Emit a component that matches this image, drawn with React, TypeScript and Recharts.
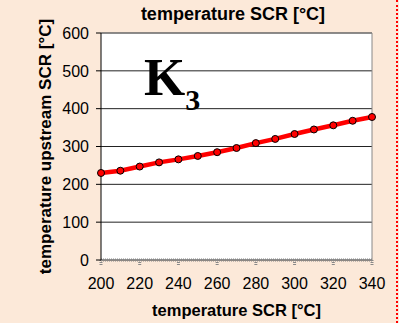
import React from 'react';
import {
  LineChart,
  Line,
  XAxis,
  YAxis,
  CartesianGrid,
  ReferenceLine,
} from 'recharts';

// temperature SCR [°C]
const scrTemps = [200, 210, 220, 230, 240, 250, 260, 270, 280, 290, 300, 310, 320, 330, 340];
// temperature upstream SCR [°C]
const upstreamTemps = [230, 236, 247, 258, 266, 275, 285, 296, 309, 320, 333, 345, 356, 368, 378];

const xTicks = [200, 220, 240, 260, 280, 300, 320, 340];
const yTicks = [0, 100, 200, 300, 400, 500, 600];

const data = scrTemps.map((t, i) => ({ scr: t, upstream: upstreamTemps[i] }));

const font = 'Arial, "Liberation Sans", sans-serif';

const App: React.FC = () => {
  return (
    <div
      style={{
        position: 'fixed',
        left: 0,
        top: 0,
        width: 399,
        height: 323,
        background: '#FCE9D9',
        fontFamily: font,
      }}
    >
      <LineChart
        width={399}
        height={323}
        data={data}
        margin={{ top: 33, right: 27, left: 0, bottom: 0 }}
      >
        <CartesianGrid horizontal vertical={false} stroke="#222" fill="#fff" />
        <ReferenceLine y={600} stroke="#888" />
        <ReferenceLine x={340} stroke="#888" />
        <XAxis
          dataKey="scr"
          type="number"
          domain={[200, 340]}
          ticks={xTicks}
          height={63}
          axisLine={{ stroke: '#888', strokeWidth: 3, strokeDasharray: '1 1' }}
          tickLine={{ stroke: '#888', strokeWidth: 3, strokeDasharray: '1 1' }}
          tickSize={5}
          tickMargin={13}
          tick={{ fill: '#000', fontSize: 16, fontFamily: font }}
          label={{
            value: 'temperature SCR [°C]',
            position: 'insideBottom',
            offset: 7,
            style: { fill: '#000', fontSize: 16.5, fontWeight: 'bold', fontFamily: font },
          }}
        />
        <YAxis
          type="number"
          domain={[0, 600]}
          ticks={yTicks}
          width={101}
          axisLine={{ stroke: '#000' }}
          tickLine={{ stroke: '#000' }}
          tickSize={5}
          tickMargin={7}
          tick={{ fill: '#000', fontSize: 16, fontFamily: font }}
          label={{
            value: 'temperature upstream SCR [°C]',
            angle: -90,
            position: 'insideLeft',
            offset: 45,
            style: {
              fill: '#000',
              fontSize: 17,
              fontWeight: 'bold',
              fontFamily: font,
              textAnchor: 'middle',
            },
          }}
        />
        <Line
          dataKey="upstream"
          stroke="#FF0000"
          strokeWidth={4.5}
          dot={{ r: 3.5, fill: '#FF0000', stroke: '#000', strokeWidth: 1 }}
          isAnimationActive={false}
        />
      </LineChart>
      <div
        style={{
          position: 'absolute',
          left: 100,
          width: 266,
          top: 5,
          textAlign: 'center',
          fontSize: 18,
          lineHeight: '18px',
          fontWeight: 'bold',
          whiteSpace: 'nowrap',
        }}
      >
        temperature SCR [°C]
      </div>
      <div
        style={{
          position: 'absolute',
          left: 144,
          top: 51,
          fontFamily: '"Times New Roman", "Liberation Serif", serif',
          fontWeight: 'bold',
          fontSize: 53,
          lineHeight: '53px',
          whiteSpace: 'nowrap',
        }}
      >
        K
        <span style={{ fontSize: 30, position: 'relative', top: 15 }}>3</span>
      </div>
      <div
        style={{
          position: 'absolute',
          left: 396,
          top: 0,
          height: 323,
          borderLeft: '2px dotted #FF0000',
        }}
      />
    </div>
  );
};

export default App;
